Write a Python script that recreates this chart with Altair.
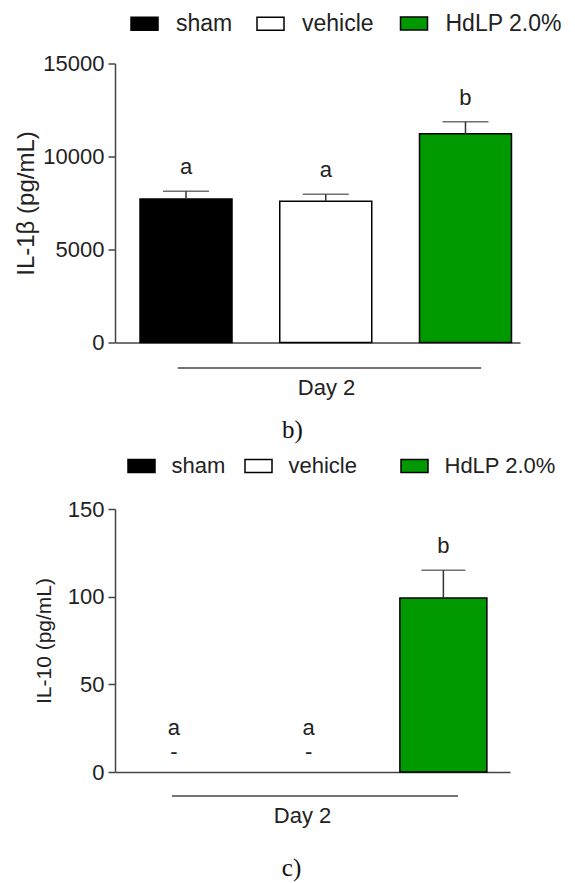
import altair as alt
import pandas as pd

# ---- data ----
groups = ["sham", "vehicle", "HdLP 2.0%"]
bar_colors = ["#000000", "#ffffff", "#009a00"]

il1b_mean = [7720, 7590, 11220]
il1b_sem = [410, 375, 645]
il1b_letters = ["a", "a", "b"]
il1b_detected = [True, True, True]

il10_mean = [0, 0, 99.2]
il10_sem = [0, 0, 15.9]
il10_letters = ["a", "a", "b"]
il10_detected = [False, False, True]

FONT = "Liberation Sans"
SERIF = "Liberation Serif"
AX = "#444444"
TXT = "#222222"
RECT = "M-1.35,-0.65L1.35,-0.65L1.35,0.65L-1.35,0.65Z"


def legend(x, y, fs, off, cp):
    return alt.Legend(orient="none", legendX=x, legendY=y, direction="horizontal",
                      title=None, symbolType=RECT, symbolSize=400,
                      symbolStrokeColor="black", symbolStrokeWidth=1.5, symbolOpacity=1,
                      labelFont=FONT, labelFontSize=fs, labelColor=TXT,
                      labelOffset=off, columnPadding=cp, padding=0)


def make_panel(mean, sem, letters, detected, ytitle, ymax, yticks, W, H,
               pi, po, align, cap, ytitle_size, ytitle_pad, day_x, day_pad,
               br_start, br_end, br_y, leg_x1, leg_x2, leg_y, leg_fs, leg_off, leg_cp,
               caption, cap_dx, cap_off):
    df = pd.DataFrame({"group": groups, "mean": mean, "sem": sem,
                       "letter": letters, "detected": detected})
    df["top"] = df["mean"] + df["sem"]

    xscale = alt.Scale(domain=groups, paddingInner=pi, paddingOuter=po, align=align)
    xaxis = alt.Axis(labels=False, ticks=False, domain=True, domainColor=AX,
                     domainWidth=1.5, grid=False, title="Day 2", titleFont=FONT,
                     titleFontSize=22, titleFontWeight="normal", titleColor=TXT,
                     titlePadding=day_pad, titleX=day_x)
    yscale = alt.Scale(domain=[0, ymax], nice=False, zero=True)
    yaxis = alt.Axis(values=yticks, format="d", grid=False, title=ytitle,
                     titleFont=FONT, titleFontSize=ytitle_size, titleFontWeight="normal",
                     titleColor=TXT, titlePadding=ytitle_pad, domainColor=AX,
                     domainWidth=1.5, tickColor=AX, tickWidth=1.5, tickSize=7,
                     labelFont=FONT, labelFontSize=22, labelColor=TXT, labelPadding=4)

    def X(field="group:N", **kw):
        return alt.X(field, scale=xscale, axis=xaxis, title="Day 2", **kw)

    def Y(field):
        return alt.Y(field, scale=yscale, axis=yaxis, title=ytitle)

    base = alt.Chart(df)
    det = base.transform_filter("datum.detected")
    nd = base.transform_filter("!datum.detected")

    # controls (sham, vehicle) and treatment get a legend each
    bars_ctrl = det.transform_filter(alt.FieldOneOfPredicate("group", groups[:2])).mark_bar(
        stroke="black", strokeWidth=1.5).encode(
        x=X(), y=Y("mean:Q"),
        fill=alt.Fill("group:N", scale=alt.Scale(domain=groups[:2], range=bar_colors[:2]),
                      legend=legend(leg_x1, leg_y, leg_fs, leg_off, leg_cp)))
    bars_trt = det.transform_filter(alt.FieldOneOfPredicate("group", groups[2:])).mark_bar(
        stroke="black", strokeWidth=1.5).encode(
        x=X(), y=Y("mean:Q"),
        color=alt.Color("group:N", scale=alt.Scale(domain=groups[2:], range=bar_colors[2:]),
                        legend=legend(leg_x2, leg_y, leg_fs, leg_off, leg_cp)))
    err = det.mark_rule(color="#333333", strokeWidth=1.5).encode(
        x=X(), y=Y("mean:Q"), y2="top:Q")
    caps = det.mark_tick(color="#333333", thickness=1.5, size=cap).encode(
        x=X(), y=Y("top:Q"))
    lett = det.mark_text(font=FONT, fontSize=22, color=TXT, baseline="alphabetic",
                         dy=-17).encode(x=X(), y=Y("top:Q"), text="letter:N")
    nd_dash = nd.mark_text(font=FONT, fontSize=22, color=TXT, baseline="alphabetic",
                           dy=-13).encode(x=X(), y=Y("top:Q"), text=alt.value("-"))
    nd_lett = nd.mark_text(font=FONT, fontSize=22, color=TXT, baseline="alphabetic",
                           dy=-37).encode(x=X(), y=Y("top:Q"), text="letter:N")

    br = alt.Chart(pd.DataFrame({"start": [groups[0]], "end": [groups[-1]]})).mark_rule(
        color=AX, strokeWidth=1.5).encode(
        x=X("start:N", bandPosition=br_start),
        x2=alt.X2("end:N", bandPosition=br_end),
        y=alt.value(br_y))

    return alt.layer(bars_ctrl, bars_trt, err, caps, lett, nd_dash, nd_lett, br).properties(
        width=W, height=H,
        title=alt.TitleParams(caption, orient="bottom", anchor="middle", frame="group",
                              font=SERIF, fontSize=25, fontWeight="normal",
                              color="#111111", dx=cap_dx, offset=cap_off))


p1 = make_panel(il1b_mean, il1b_sem, il1b_letters, il1b_detected,
                "IL-1\u03b2 (pg/mL)", 15000, [0, 5000, 10000, 15000],
                W=405, H=279, pi=0.3417, po=0.12, align=0.746, cap=46,
                ytitle_size=24, ytitle_pad=4, day_x=211, day_pad=35,
                br_start=0.41, br_end=0.67, br_y=279 + 25.6,
                leg_x1=18, leg_x2=287.5, leg_y=-51.5, leg_fs=23, leg_off=20, leg_cp=21,
                caption="b)", cap_dx=-25, cap_off=19)

p2 = make_panel(il10_mean, il10_sem, il10_letters, il10_detected,
                "IL-10 (pg/mL)", 150, [0, 50, 100, 150],
                W=395, H=263, pi=0.3544, po=0.143, align=0.40, cap=44,
                ytitle_size=21, ytitle_pad=13, day_x=187, day_pad=33,
                br_start=0.477, br_end=0.667, br_y=263 + 24,
                leg_x1=15.5, leg_x2=288.5, leg_y=-54, leg_fs=22, leg_off=19, leg_cp=16,
                caption="c)", cap_dx=-21, cap_off=30)

chart = alt.vconcat(p1, p2, spacing=12.5).resolve_scale(
    color="independent", fill="independent").resolve_legend(
    color="independent", fill="independent").properties(
    padding={"left": 6, "top": 3.5, "right": 0, "bottom": 5}, background="white"
).configure_view(strokeWidth=0, stroke="transparent")

chart.save("out.html", embed_options={"renderer": "svg", "actions": False})
